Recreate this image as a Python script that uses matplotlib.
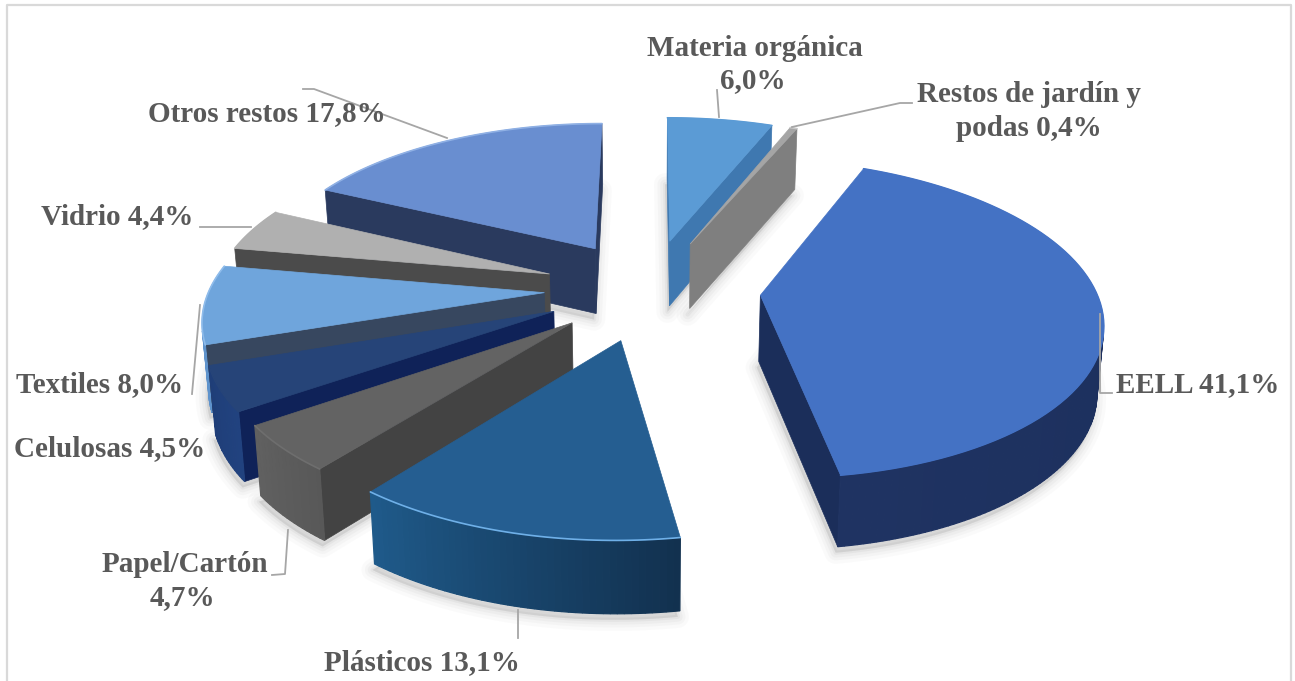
import numpy as np
import matplotlib
matplotlib.use("Agg")
import matplotlib.pyplot as plt
from matplotlib.patches import Polygon
from matplotlib.colors import to_rgb

# ---- data ----
names = ["Materia orgánica", "Restos de jardín y podas", "EELL", "Plásticos", "Papel/Cartón",
         "Celulosas", "Textiles", "Vidrio", "Otros restos"]
values = [6.0, 0.4, 41.1, 13.1, 4.7, 4.5, 8.0, 4.4, 17.8]
label_lines = [["{n}", "{v}"], ["Restos de jardín y", "podas {v}"], ["{n} {v}"], ["{n} {v}"],
               ["{n}", "{v}"], ["{n} {v}"], ["{n} {v}"], ["{n} {v}"], ["{n} {v}"]]

# ---- styles ----
explode = [0.33, 0.33, 0.33, 0.33, 0.31, 0.315, 0.315, 0.32, 0.32]
top_col = ["#5B9BD5", "#A5A5A5", "#4472C4", "#255E91", "#636363", "#264478", "#6FA5DC", "#B0B0B0", "#698ED0"]
face_col = ["#3F78B0", "#7F7F7F", "#1B2E5A", "#163A5C", "#434343", "#0F2258", "#37475F", "#4B4B4B", "#2A3A5E"]
rim_a = ["#3F78B0", "#7F7F7F", "#1A2D59", "#12314F", "#585858", "#21427F", "#5F93CC", "#4B4B4B", "#2A3A5E"]
rim_b = ["#3F78B0", "#7F7F7F", "#1F3362", "#1F5A8A", "#606060", "#1F3E78", "#5F93CC", "#4B4B4B", "#2A3A5E"]
edge_col = ["#5B9BD5", "#C8C8C8", "#4472C4", "#6FB0E8", "#6E6E6E", "#264478", "#8FBCEB", "#B0B0B0", "#8FB0E4"]
label_pos = [[(755, 48), (753, 81)], [(1029, 94), (1029, 128)], [(1198, 385)], [(422, 663)],
             [(185, 565), (182, 598)], [(110, 449)], [(100, 385)], [(117, 217)], [(267, 114)]]
leaders = [[(717, 90), (719, 117)], [(912, 103), (900, 103), (792, 127)],
           [(1100, 314), (1100, 393), (1112, 393)], [(518, 610), (518, 638)],
           [(288, 530), (285, 574), (272, 575)], [], [(200, 305), (192, 394)],
           [(200, 227), (251, 227)], [(303, 89), (314, 89), (447, 138)]]

CX, CY, R, SQUASH, PERSP, DEPTH, SHRINK = 650.0, 289.0, 335.0, 0.46, 0.145, 66.0, 0.985
TXT = "#595959"
plt.rcParams["font.family"] = ["Liberation Serif", "DejaVu Serif"]

fig = plt.figure(figsize=(12.95, 6.81), dpi=100, facecolor="white")
ax = fig.add_axes([0, 0, 1, 1])
ax.set_xlim(0, 1295)
ax.set_ylim(681, 0)
ax.axis("off")


def project(x, y, low):
    w = 1 + PERSP * y
    u = R * x / w
    v = -R * SQUASH * y / w
    if low:
        u *= SHRINK
        v += DEPTH / np.sqrt(w)
    return np.array([CX + u, CY + v])


def area(p):
    p = np.asarray(p)
    x, y = p[:, 0], p[:, 1]
    return np.sum(x * np.roll(y, -1) - np.roll(x, -1) * y)


edges = np.radians(np.concatenate([[0], np.cumsum(values)]) / np.sum(values) * 360)
slices = []
for i in range(len(values)):
    a0, a1 = edges[i], edges[i + 1]
    mid = (a0 + a1) / 2
    ex, ey = explode[i] * np.sin(mid), explode[i] * np.cos(mid)
    th = np.linspace(a0, a1, max(3, int(np.degrees(a1 - a0)) + 2))
    slices.append(dict(i=i, th=th, ex=ex, ey=ey))


def apex(s, low):
    return project(s["ex"], s["ey"], low)


def rim(s, t, low):
    return project(s["ex"] + np.sin(t), s["ey"] + np.cos(t), low)


order = sorted(slices, key=lambda s: -s["ey"])

# soft shadows
for s in order:
    pts = [apex(s, True)] + [rim(s, t, True) for t in s["th"]]
    pts = np.array(pts) + np.array([-2, 6])
    for lw, al in [(16, 0.03), (11, 0.04), (7, 0.05), (3, 0.07)]:
        ax.add_patch(Polygon(pts, closed=True, facecolor="#777777", edgecolor="#777777",
                             lw=lw, alpha=al, joinstyle="round", zorder=1))

z = 2
for s in order:
    i = s["i"]
    th = s["th"]
    # radial faces
    for t, sign in ((th[0], -1), (th[-1], 1)):
        q = [apex(s, False), rim(s, t, False), rim(s, t, True), apex(s, True)]
        if area(q) * sign > 0:
            ax.add_patch(Polygon(q, closed=True, facecolor=face_col[i], edgecolor=face_col[i], lw=0.5, zorder=z))
    # outer wall
    ca, cb = np.array(to_rgb(rim_a[i])), np.array(to_rgb(rim_b[i]))
    for j in range(len(th) - 1):
        q = [rim(s, th[j], False), rim(s, th[j + 1], False), rim(s, th[j + 1], True), rim(s, th[j], True)]
        if area(q) < 0:
            f = j / max(1, len(th) - 2)
            c = tuple(ca + (cb - ca) * f)
            ax.add_patch(Polygon(q, closed=True, facecolor=c, edgecolor=c, lw=0.9, zorder=z))
    # top face
    topline = np.array([rim(s, t, False) for t in th])
    ax.add_patch(Polygon(np.vstack([apex(s, False), topline]), closed=True,
                         facecolor=top_col[i], edgecolor=top_col[i], lw=0.5, zorder=z))
    ax.plot(topline[:, 0], topline[:, 1], color=edge_col[i], lw=1.2, zorder=z, solid_capstyle="round")
    z += 1

# leader lines
for pts in leaders:
    if pts:
        p = np.array(pts)
        ax.plot(p[:, 0], p[:, 1], color="#A6A6A6", lw=1.3, zorder=50)

# labels
for i in range(len(values)):
    vs = f"{values[i]:.1f}".replace(".", ",") + "%"
    for tpl, (x, y) in zip(label_lines[i], label_pos[i]):
        ax.text(x, y, tpl.format(n=names[i], v=vs), ha="center", va="center", fontsize=21,
                fontweight="bold", color=TXT, zorder=60)

# chart frame
ax.plot([6.5, 6.5, 1291, 1291], [681, 4.5, 4.5, 681], color="#D9D9D9", lw=1.6, zorder=70)

fig.savefig("out.png", dpi=100, facecolor="white")
